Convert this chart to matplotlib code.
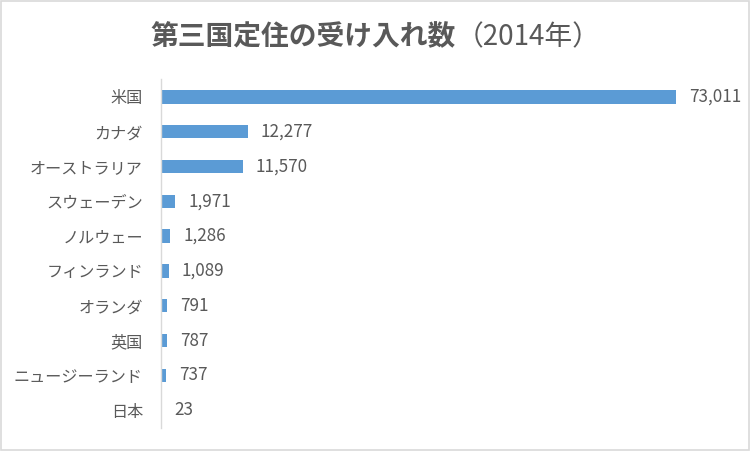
import matplotlib
matplotlib.use("Agg")
import matplotlib.pyplot as plt
from matplotlib.patches import Rectangle

plt.rcParams['font.family'] = ['Noto Sans CJK JP', 'DejaVu Sans']

categories = ["米国", "カナダ", "オーストラリア", "スウェーデン", "ノルウェー",
              "フィンランド", "オランダ", "英国", "ニュージーランド", "日本"]
values = [73011, 12277, 11570, 1971, 1286, 1089, 791, 787, 737, 23]
title_main = "第三国定住の受け入れ数"
title_sub = "（2014年）"

text_color = "#595959"
bar_color = "#5B9BD5"

fig = plt.figure(figsize=(7.5, 4.51), dpi=100)
ax = fig.add_axes([161/750, 1 - 427.5/451, (725-161)/750, (427.5-79.5)/451])

ypos = list(range(len(categories)))
bars = ax.barh(ypos, values, height=0.38, color=bar_color)
ax.set_ylim(len(categories) - 0.5, -0.5)
ax.set_xlim(0, 80000)
ax.set_yticks(ypos)
ax.set_yticklabels(categories, fontsize=11.6, color=text_color)
ax.tick_params(axis='y', length=0, pad=13)
ax.set_xticks([])
for s in ['top', 'right', 'bottom']:
    ax.spines[s].set_visible(False)
ax.spines['left'].set_color("#D9D9D9")
ax.spines['left'].set_linewidth(1)

for b, v in zip(bars, values):
    ax.annotate(f"{v:,}", xy=(b.get_width(), b.get_y() + b.get_height()/2),
                xytext=(9.5, 0), textcoords="offset points",
                va='center', ha='left', fontsize=12.3, color=text_color)

# Title: bold main part + regular sub part, centred together
ty = 1 - 37/451
t1 = fig.text(0, ty, title_main, ha='left', va='center', fontsize=20,
              fontweight='bold', color=text_color)
t2 = fig.text(0, ty, title_sub, ha='left', va='center', fontsize=20,
              color=text_color)
fig.canvas.draw()
r = fig.canvas.get_renderer()
w1 = t1.get_window_extent(r).width / 750
w2 = t2.get_window_extent(r).width / 750
x0 = 0.5 - (w1 + w2) / 2
t1.set_x(x0)
t2.set_x(x0 + w1)

fig.patches.append(Rectangle((0.001, 0.002), 0.997, 0.995, transform=fig.transFigure,
                             fill=False, edgecolor="#D9D9D9", linewidth=1.2))

fig.savefig("out.png", dpi=100)
